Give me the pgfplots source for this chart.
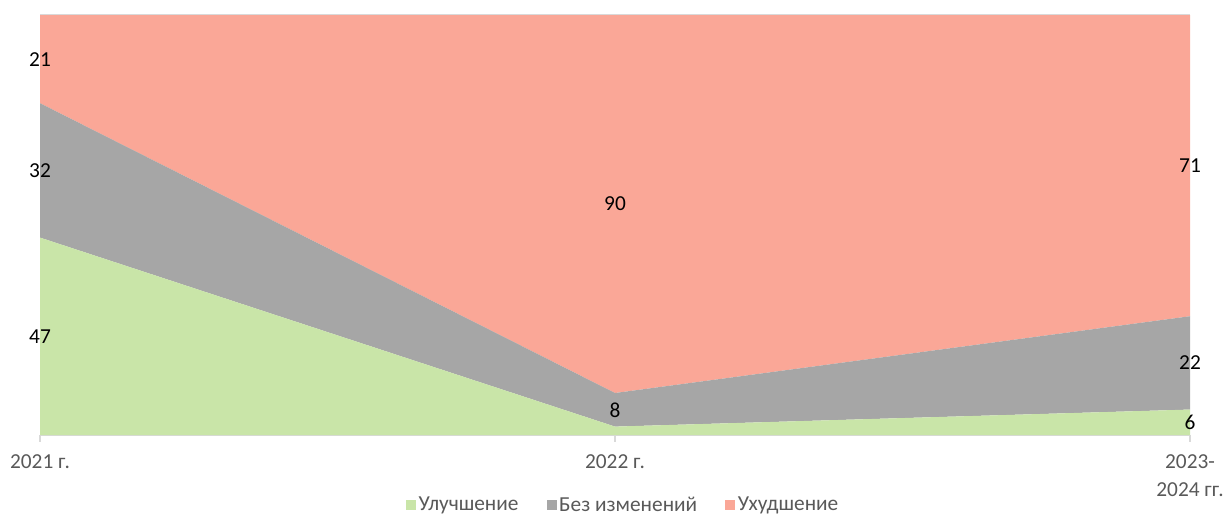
\documentclass[border=0pt]{standalone}
\usepackage{fontspec}
\setmainfont{Carlito}
\usepackage{pgfplots}
\pgfplotsset{compat=1.18}
\definecolor{cgreen}{RGB}{201,229,168}
\definecolor{cgray}{RGB}{166,166,166}
\definecolor{cred}{RGB}{250,167,151}
\definecolor{axgray}{RGB}{217,217,217}
\definecolor{txtgray}{RGB}{89,89,89}
\begin{document}
\begin{tikzpicture}
\useasboundingbox (-30pt,-60pt) rectangle (887.25pt,326.25pt);
\pgfplotsset{every axis/.append style={font=\fontsize{16}{21}\selectfont}}
\begin{axis}[
  scale only axis, width=862.5pt, height=315pt,
  xmin=0, xmax=2, ymin=0, ymax=100,
  enlargelimits=false,
  stack plots=y,
  axis y line=none,
  axis x line*=bottom,
  x axis line style={draw=axgray, line width=1pt, -},
  xtick={0,1,2},
  xticklabels={2021 г., 2022 г., {2023-\\2024 гг.}},
  xticklabel style={align=center, text=txtgray, yshift=-6pt},
  tick align=outside,
  major tick length=5pt,
  xtick style={draw=axgray, line width=1pt},
  legend columns=3,
  legend style={at={(0.5074,-0.1667)}, anchor=center, draw=none, fill=none,
    text=txtgray, font=\fontsize{16}{18}\selectfont,
    /tikz/every even column/.append style={column sep=19pt}},
  legend image code/.code={\fill[#1] (-2pt,-3.75pt) rectangle (5.5pt,3.75pt);},
  clip=false,
]
\addplot[fill=cgreen, draw=none] coordinates {(0,47) (1,2) (2,6.06)} \closedcycle;
\addlegendentry{Улучшение}
\addplot[fill=cgray, draw=none] coordinates {(0,32) (1,8) (2,22.22)} \closedcycle;
\addlegendentry{Без изменений}
\addplot[fill=cred, draw=none] coordinates {(0,21) (1,90) (2,71.72)} \closedcycle;
\addlegendentry{Ухудшение}
\draw[axgray, line width=1pt] (rel axis cs:0,1) -- (rel axis cs:1,1);
\end{axis}
\begin{axis}[
  scale only axis, width=862.5pt, height=315pt,
  xmin=0, xmax=2, ymin=0, ymax=100,
  enlargelimits=false, hide axis, clip=false,
]
\addplot[draw=none, mark=none, nodes near coords, point meta=explicit symbolic,
  every node near coord/.style={anchor=center, text=black}]
  coordinates {
  (0,23.5) [47] (0,63) [32] (0,89.5) [21]
  (1,6) [8] (1,55) [90]
  (2,3.03) [6] (2,17.17) [22] (2,64.14) [71]
  };
\end{axis}
\end{tikzpicture}
\end{document}
